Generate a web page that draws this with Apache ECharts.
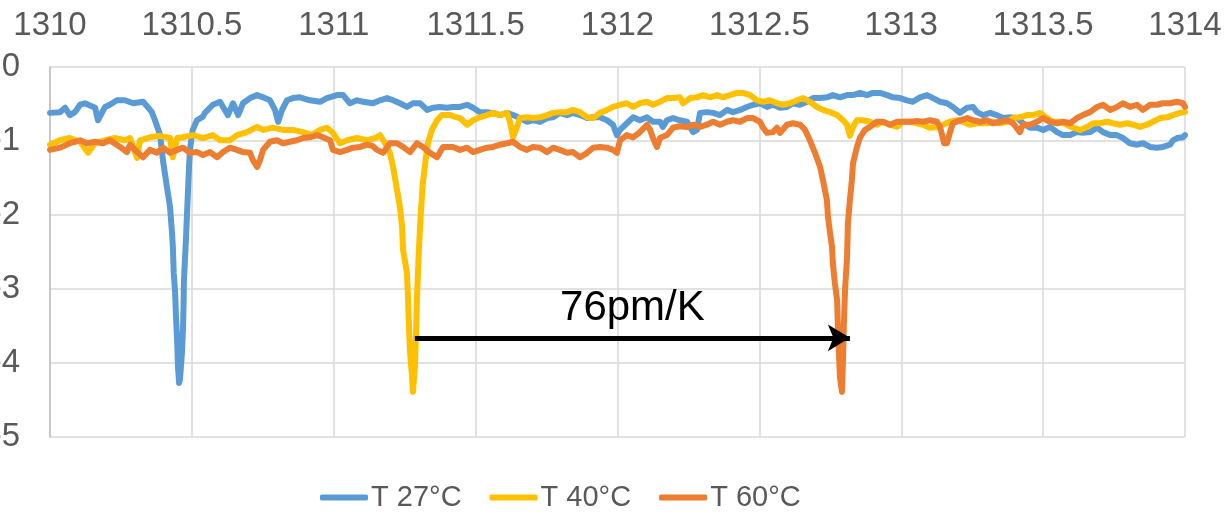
<!DOCTYPE html>
<html>
<head>
<meta charset="utf-8">
<style>
  html, body { margin: 0; padding: 0; background: #fff; }
  #chart { width: 1229px; height: 515px; }
</style>
<script src="https://cdn.jsdelivr.net/npm/echarts@6/dist/echarts.min.js"></script>
</head>
<body>
<div id="chart"></div>
<script>
// Wavelength axis (nm) and transmission axis
const xMin = 1310, xMax = 1314, xStep = 0.5;
const yMin = -5, yMax = 0, yStep = 1;
const seriesNames = ['T 27°C', 'T 40°C', 'T 60°C'];
const seriesColors = ['#5B9BD5', '#FFC000', '#ED7D31'];

// T 27°C  [wavelength, value]
const t27 = [
[1310.000,-0.62],[1310.035,-0.61],[1310.053,-0.55],[1310.070,-0.65],[1310.088,-0.61],[1310.106,-0.51],
[1310.123,-0.49],[1310.159,-0.55],[1310.169,-0.72],[1310.194,-0.54],[1310.211,-0.51],[1310.236,-0.45],
[1310.264,-0.45],[1310.293,-0.49],[1310.328,-0.47],[1310.342,-0.53],[1310.359,-0.61],[1310.370,-0.72],
[1310.388,-0.92],[1310.398,-1.26],[1310.412,-1.62],[1310.423,-1.89],[1310.430,-2.24],[1310.433,-2.43],
[1310.436,-2.78],[1310.441,-3.05],[1310.444,-3.37],[1310.448,-3.69],[1310.451,-4.05],[1310.455,-4.27],
[1310.458,-4.23],[1310.465,-3.86],[1310.469,-3.51],[1310.471,-3.15],[1310.472,-2.88],[1310.479,-2.34],
[1310.483,-1.97],[1310.490,-1.35],[1310.493,-1.12],[1310.503,-0.85],[1310.518,-0.72],[1310.539,-0.67],
[1310.546,-0.62],[1310.574,-0.51],[1310.599,-0.47],[1310.627,-0.65],[1310.645,-0.49],[1310.663,-0.65],
[1310.680,-0.49],[1310.705,-0.42],[1310.730,-0.38],[1310.751,-0.41],[1310.775,-0.45],[1310.793,-0.58],
[1310.804,-0.74],[1310.818,-0.58],[1310.835,-0.45],[1310.856,-0.42],[1310.881,-0.41],[1310.916,-0.45],
[1310.952,-0.47],[1310.976,-0.42],[1311.011,-0.38],[1311.033,-0.38],[1311.057,-0.49],[1311.082,-0.45],
[1311.103,-0.47],[1311.138,-0.49],[1311.163,-0.45],[1311.188,-0.42],[1311.209,-0.45],[1311.233,-0.49],
[1311.258,-0.54],[1311.279,-0.49],[1311.304,-0.49],[1311.329,-0.58],[1311.350,-0.55],[1311.374,-0.54],
[1311.399,-0.55],[1311.420,-0.54],[1311.445,-0.54],[1311.470,-0.51],[1311.491,-0.55],[1311.515,-0.61],
[1311.540,-0.61],[1311.561,-0.62],[1311.586,-0.65],[1311.611,-0.62],[1311.632,-0.65],[1311.656,-0.69],
[1311.681,-0.74],[1311.702,-0.72],[1311.727,-0.74],[1311.752,-0.69],[1311.773,-0.68],[1311.797,-0.62],
[1311.822,-0.65],[1311.843,-0.62],[1311.868,-0.65],[1311.893,-0.69],[1311.914,-0.68],[1311.938,-0.68],
[1311.963,-0.72],[1311.984,-0.78],[1311.998,-0.92],[1312.009,-0.85],[1312.033,-0.76],[1312.055,-0.68],
[1312.079,-0.72],[1312.104,-0.68],[1312.125,-0.74],[1312.150,-0.74],[1312.160,-0.81],[1312.174,-0.72],
[1312.196,-0.69],[1312.220,-0.72],[1312.245,-0.74],[1312.266,-0.88],[1312.280,-0.85],[1312.291,-0.62],
[1312.315,-0.61],[1312.337,-0.62],[1312.361,-0.65],[1312.386,-0.58],[1312.407,-0.61],[1312.432,-0.58],
[1312.456,-0.54],[1312.478,-0.51],[1312.502,-0.49],[1312.527,-0.54],[1312.548,-0.51],[1312.573,-0.55],
[1312.597,-0.54],[1312.618,-0.49],[1312.643,-0.51],[1312.668,-0.47],[1312.689,-0.42],[1312.714,-0.42],
[1312.738,-0.41],[1312.759,-0.38],[1312.784,-0.41],[1312.809,-0.38],[1312.830,-0.38],[1312.855,-0.35],
[1312.879,-0.38],[1312.900,-0.35],[1312.925,-0.35],[1312.950,-0.38],[1312.971,-0.41],[1312.996,-0.42],
[1313.020,-0.45],[1313.041,-0.47],[1313.066,-0.41],[1313.091,-0.38],[1313.112,-0.42],[1313.137,-0.47],
[1313.161,-0.49],[1313.182,-0.54],[1313.207,-0.62],[1313.232,-0.55],[1313.253,-0.54],[1313.267,-0.61],
[1313.288,-0.65],[1313.313,-0.62],[1313.337,-0.65],[1313.359,-0.69],[1313.383,-0.68],[1313.408,-0.69],
[1313.429,-0.76],[1313.454,-0.82],[1313.478,-0.82],[1313.500,-0.85],[1313.524,-0.81],[1313.549,-0.88],
[1313.570,-0.92],[1313.595,-0.92],[1313.619,-0.88],[1313.640,-0.89],[1313.665,-0.88],[1313.690,-0.82],
[1313.711,-0.88],[1313.736,-0.92],[1313.760,-0.92],[1313.781,-0.96],[1313.806,-1.03],[1313.831,-1.05],
[1313.852,-1.03],[1313.877,-1.08],[1313.901,-1.09],[1313.922,-1.08],[1313.947,-1.05],[1313.958,-0.99],
[1313.972,-0.96],[1313.993,-0.95],[1314.000,-0.92]
];

// T 40°C
const t40 = [
[1310.000,-1.05],[1310.035,-0.99],[1310.070,-0.96],[1310.106,-1.01],[1310.134,-1.16],[1310.159,-1.03],
[1310.194,-0.99],[1310.229,-0.96],[1310.264,-0.99],[1310.282,-0.96],[1310.307,-1.23],[1310.317,-0.99],
[1310.352,-0.95],[1310.388,-0.93],[1310.423,-0.96],[1310.433,-1.22],[1310.448,-0.96],[1310.469,-0.95],
[1310.504,-0.92],[1310.539,-0.96],[1310.574,-0.92],[1310.599,-0.99],[1310.634,-0.99],[1310.659,-0.92],
[1310.694,-0.88],[1310.730,-0.81],[1310.751,-0.85],[1310.786,-0.82],[1310.821,-0.85],[1310.856,-0.85],
[1310.892,-0.88],[1310.923,-0.92],[1310.952,-0.85],[1310.976,-0.82],[1310.997,-0.89],[1311.022,-1.03],
[1311.047,-0.99],[1311.082,-0.96],[1311.117,-0.99],[1311.152,-0.95],[1311.163,-0.92],[1311.181,-1.03],
[1311.198,-1.16],[1311.209,-1.35],[1311.223,-1.66],[1311.233,-1.89],[1311.241,-2.16],[1311.244,-2.47],
[1311.258,-2.78],[1311.262,-3.15],[1311.265,-3.51],[1311.269,-3.86],[1311.276,-4.19],[1311.279,-4.39],
[1311.286,-4.05],[1311.290,-3.59],[1311.293,-3.15],[1311.300,-2.47],[1311.307,-1.97],[1311.314,-1.57],
[1311.325,-1.22],[1311.332,-1.03],[1311.346,-0.85],[1311.364,-0.72],[1311.381,-0.65],[1311.410,-0.65],
[1311.434,-0.68],[1311.445,-0.69],[1311.470,-0.78],[1311.491,-0.72],[1311.515,-0.68],[1311.540,-0.65],
[1311.561,-0.62],[1311.586,-0.65],[1311.611,-0.62],[1311.621,-0.74],[1311.632,-0.95],[1311.646,-0.81],
[1311.656,-0.69],[1311.681,-0.68],[1311.702,-0.69],[1311.727,-0.68],[1311.752,-0.65],[1311.773,-0.62],
[1311.797,-0.61],[1311.822,-0.61],[1311.843,-0.58],[1311.868,-0.61],[1311.893,-0.68],[1311.914,-0.69],
[1311.938,-0.62],[1311.963,-0.58],[1311.984,-0.54],[1312.009,-0.51],[1312.033,-0.49],[1312.055,-0.54],
[1312.079,-0.49],[1312.104,-0.47],[1312.125,-0.51],[1312.150,-0.47],[1312.174,-0.42],[1312.196,-0.42],
[1312.220,-0.41],[1312.231,-0.49],[1312.256,-0.42],[1312.280,-0.41],[1312.301,-0.38],[1312.326,-0.41],
[1312.351,-0.38],[1312.372,-0.41],[1312.396,-0.38],[1312.421,-0.35],[1312.442,-0.35],[1312.467,-0.38],
[1312.492,-0.45],[1312.513,-0.47],[1312.537,-0.45],[1312.562,-0.49],[1312.583,-0.51],[1312.608,-0.49],
[1312.633,-0.45],[1312.654,-0.42],[1312.678,-0.47],[1312.703,-0.54],[1312.724,-0.58],[1312.749,-0.61],
[1312.774,-0.65],[1312.795,-0.72],[1312.809,-0.78],[1312.819,-0.93],[1312.830,-0.81],[1312.844,-0.72],
[1312.865,-0.72],[1312.890,-0.74],[1312.914,-0.78],[1312.936,-0.74],[1312.960,-0.78],[1312.985,-0.81],
[1313.006,-0.74],[1313.031,-0.74],[1313.055,-0.76],[1313.077,-0.78],[1313.101,-0.82],[1313.126,-0.81],
[1313.147,-0.78],[1313.172,-0.74],[1313.196,-0.72],[1313.218,-0.74],[1313.242,-0.78],[1313.267,-0.76],
[1313.302,-0.76],[1313.323,-0.74],[1313.348,-0.76],[1313.373,-0.74],[1313.394,-0.69],[1313.418,-0.68],
[1313.443,-0.65],[1313.464,-0.65],[1313.489,-0.62],[1313.514,-0.69],[1313.535,-0.74],[1313.559,-0.74],
[1313.584,-0.78],[1313.605,-0.82],[1313.630,-0.85],[1313.655,-0.81],[1313.676,-0.76],[1313.700,-0.76],
[1313.725,-0.74],[1313.746,-0.76],[1313.771,-0.78],[1313.796,-0.76],[1313.817,-0.78],[1313.841,-0.81],
[1313.866,-0.78],[1313.887,-0.74],[1313.912,-0.69],[1313.937,-0.68],[1313.958,-0.65],[1313.982,-0.62],
[1314.000,-0.61]
];

// T 60°C
const t60 = [
[1310.000,-1.12],[1310.035,-1.09],[1310.070,-1.03],[1310.106,-0.99],[1310.130,-1.03],[1310.159,-1.01],
[1310.187,-1.03],[1310.211,-0.99],[1310.247,-1.08],[1310.271,-1.15],[1310.282,-1.05],[1310.307,-1.15],
[1310.328,-1.22],[1310.352,-1.12],[1310.377,-1.16],[1310.398,-1.09],[1310.423,-1.16],[1310.448,-1.12],
[1310.469,-1.09],[1310.493,-1.16],[1310.518,-1.15],[1310.539,-1.19],[1310.564,-1.15],[1310.589,-1.22],
[1310.610,-1.15],[1310.634,-1.09],[1310.659,-1.12],[1310.680,-1.15],[1310.705,-1.16],[1310.715,-1.26],
[1310.730,-1.35],[1310.740,-1.26],[1310.751,-1.12],[1310.775,-1.01],[1310.800,-0.99],[1310.821,-1.03],
[1310.846,-1.01],[1310.870,-0.99],[1310.892,-0.96],[1310.916,-0.95],[1310.941,-0.92],[1310.962,-0.95],
[1310.987,-0.99],[1310.997,-1.12],[1311.022,-1.15],[1311.047,-1.12],[1311.068,-1.09],[1311.093,-1.08],
[1311.117,-1.05],[1311.138,-1.07],[1311.152,-1.12],[1311.174,-1.16],[1311.198,-1.03],[1311.223,-1.03],
[1311.244,-1.08],[1311.269,-1.15],[1311.293,-1.03],[1311.314,-1.08],[1311.339,-1.16],[1311.364,-1.22],
[1311.385,-1.08],[1311.420,-1.08],[1311.445,-1.12],[1311.470,-1.09],[1311.491,-1.15],[1311.515,-1.12],
[1311.540,-1.09],[1311.561,-1.08],[1311.586,-1.05],[1311.611,-1.03],[1311.632,-1.01],[1311.656,-1.08],
[1311.681,-1.12],[1311.702,-1.08],[1311.727,-1.09],[1311.752,-1.15],[1311.773,-1.09],[1311.797,-1.12],
[1311.822,-1.16],[1311.843,-1.15],[1311.868,-1.22],[1311.893,-1.16],[1311.914,-1.09],[1311.938,-1.08],
[1311.963,-1.09],[1311.984,-1.12],[1311.998,-1.16],[1312.009,-0.99],[1312.033,-0.92],[1312.055,-0.95],
[1312.079,-0.88],[1312.104,-0.78],[1312.115,-0.85],[1312.125,-0.96],[1312.139,-1.08],[1312.150,-0.96],
[1312.174,-0.92],[1312.196,-0.82],[1312.220,-0.80],[1312.245,-0.81],[1312.266,-0.78],[1312.291,-0.81],
[1312.315,-0.78],[1312.337,-0.74],[1312.361,-0.78],[1312.386,-0.74],[1312.407,-0.72],[1312.432,-0.74],
[1312.456,-0.69],[1312.478,-0.69],[1312.502,-0.74],[1312.513,-0.82],[1312.527,-0.89],[1312.548,-0.88],
[1312.562,-0.82],[1312.573,-0.89],[1312.597,-0.78],[1312.618,-0.76],[1312.643,-0.78],[1312.661,-0.85],
[1312.678,-0.99],[1312.696,-1.16],[1312.714,-1.35],[1312.724,-1.53],[1312.738,-1.80],[1312.742,-2.03],
[1312.749,-2.24],[1312.756,-2.43],[1312.759,-2.65],[1312.766,-2.92],[1312.774,-3.15],[1312.777,-3.55],
[1312.781,-3.92],[1312.784,-4.19],[1312.791,-4.39],[1312.795,-3.92],[1312.798,-3.46],[1312.802,-3.01],
[1312.809,-2.57],[1312.812,-2.11],[1312.819,-1.80],[1312.826,-1.53],[1312.830,-1.30],[1312.844,-1.08],
[1312.855,-0.95],[1312.872,-0.85],[1312.890,-0.81],[1312.914,-0.74],[1312.936,-0.74],[1312.960,-0.78],
[1312.985,-0.74],[1313.006,-0.74],[1313.031,-0.74],[1313.055,-0.73],[1313.077,-0.74],[1313.101,-0.72],
[1313.126,-0.74],[1313.137,-0.81],[1313.151,-1.03],[1313.161,-1.03],[1313.172,-0.88],[1313.182,-0.76],
[1313.207,-0.72],[1313.232,-0.69],[1313.253,-0.72],[1313.278,-0.74],[1313.302,-0.72],[1313.323,-0.76],
[1313.348,-0.74],[1313.373,-0.72],[1313.394,-0.76],[1313.418,-0.88],[1313.429,-0.78],[1313.454,-0.78],
[1313.478,-0.74],[1313.500,-0.69],[1313.524,-0.74],[1313.549,-0.76],[1313.570,-0.74],[1313.595,-0.76],
[1313.619,-0.69],[1313.640,-0.65],[1313.665,-0.61],[1313.690,-0.54],[1313.711,-0.51],[1313.736,-0.58],
[1313.760,-0.54],[1313.781,-0.49],[1313.806,-0.54],[1313.831,-0.51],[1313.852,-0.58],[1313.877,-0.51],
[1313.901,-0.51],[1313.922,-0.49],[1313.947,-0.49],[1313.972,-0.47],[1313.993,-0.49],[1314.000,-0.54]
];

// Annotation arrow (40°C dip -> 60°C dip)
const arrowStart = [1311.286, -3.66];
const arrowEnd = [1312.819, -3.66];
const arrowText = '76pm/K';

const chart = echarts.init(document.getElementById('chart'), null, { renderer: 'canvas' });
const fontMain = "'Liberation Sans', Arial, sans-serif";
const seriesData = [t27, t40, t60];

const series = seriesData.map((d, i) => ({
  name: seriesNames[i],
  type: 'line',
  data: d,
  symbol: 'none',
  showSymbol: false,
  smooth: false,
  lineStyle: { color: seriesColors[i], width: 6, cap: 'round', join: 'round' },
  itemStyle: { color: seriesColors[i] },
  z: 2 + i
}));

series[2].markLine = {
  silent: true,
  symbol: ['none', 'arrow'],
  symbolSize: [20, 22],
  animation: false,
  lineStyle: { color: '#000', width: 5, type: 'solid' },
  label: {
    show: true,
    position: 'insideMiddleTop',
    formatter: arrowText,
    color: '#000',
    fontSize: 42,
    fontFamily: fontMain,
    distance: 8
  },
  data: [[{ coord: arrowStart }, { coord: arrowEnd }]],
  z: 10
};

chart.setOption({
  animation: false,
  backgroundColor: '#fff',
  grid: { left: 50, right: 44, top: 67, bottom: 78, containLabel: false, outerBoundsMode: 'none' },
  legend: {
    data: seriesNames,
    left: 320,
    top: 483,
    padding: 0,
    itemWidth: 48,
    itemHeight: 6,
    itemGap: 28,
    icon: 'roundRect',
    textStyle: {
      fontSize: 29,
      color: '#595959',
      fontFamily: fontMain,
      padding: [0, 0, 0, -2]
    }
  },
  xAxis: {
    type: 'value',
    position: 'top',
    min: xMin,
    max: xMax,
    interval: xStep,
    axisLine: { show: false },
    axisTick: { show: false },
    axisLabel: {
      fontSize: 33,
      color: '#595959',
      fontFamily: fontMain,
      margin: 25,
      formatter: v => String(v)
    },
    splitLine: { show: true, lineStyle: { color: '#D9D9D9', width: 1.5 } }
  },
  yAxis: {
    type: 'value',
    min: yMin,
    max: yMax,
    interval: yStep,
    axisLine: { show: true, lineStyle: { color: '#BFBFBF', width: 1.5 } },
    axisTick: { show: false },
    axisLabel: {
      fontSize: 33,
      color: '#595959',
      fontFamily: fontMain,
      margin: 30,
      formatter: v => String(v)
    },
    splitLine: { show: true, lineStyle: { color: '#D9D9D9', width: 1.5 } }
  },
  series: series
});
</script>
</body>
</html>
